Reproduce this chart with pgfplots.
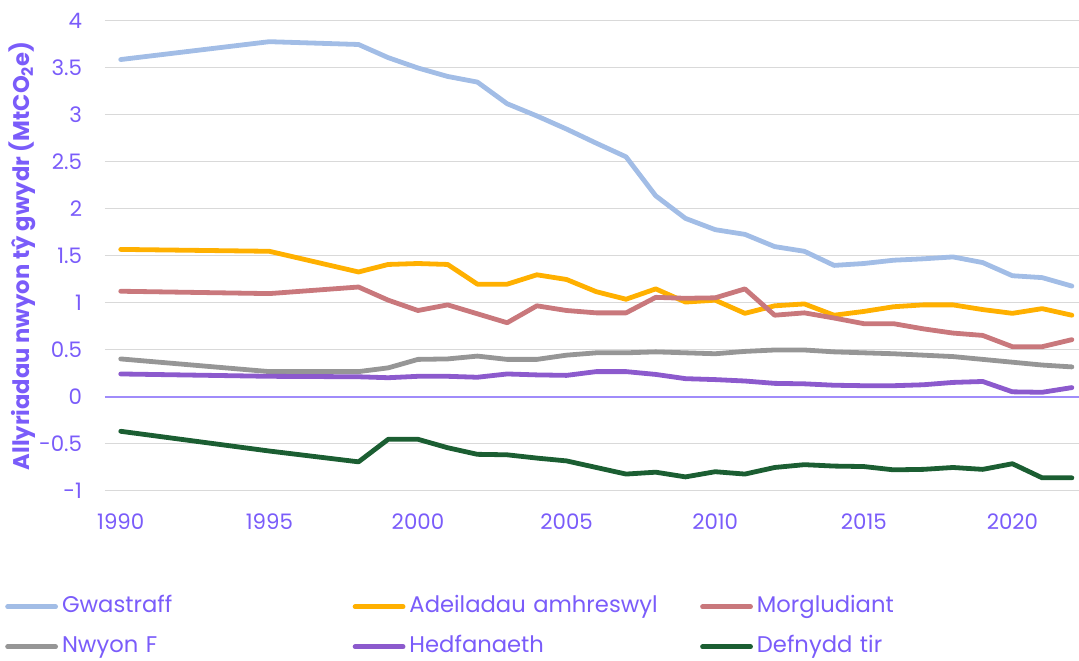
\documentclass[border=0pt]{standalone}
\usepackage{pgfplots}
\pgfplotsset{compat=1.18}
\usepackage{pgfplotstable}
\usepackage{fontspec}
\setmainfont{Poppins}
\definecolor{txtpurple}{RGB}{122,92,250}
\definecolor{zeropurple}{RGB}{160,140,250}
\definecolor{gridgray}{RGB}{217,217,217}
\definecolor{cWaste}{RGB}{162,189,230}
\definecolor{cBuild}{RGB}{255,176,0}
\definecolor{cTrans}{RGB}{201,120,124}
\definecolor{cFgas}{RGB}{150,150,150}
\definecolor{cAvia}{RGB}{140,90,205}
\definecolor{cLand}{RGB}{27,94,50}

% year, Gwastraff, Adeiladau, Morgludiant, Nwyon F, Hedfanaeth, Defnydd tir
\pgfplotstableread{
year waste build trans fgas avia land
1990 3.59 1.57 1.125 0.405 0.245 -0.365
1995 3.78 1.55 1.10 0.27 0.22 -0.575
1998 3.75 1.33 1.17 0.27 0.215 -0.69
1999 3.61 1.41 1.03 0.31 0.205 -0.45
2000 3.50 1.42 0.92 0.40 0.22 -0.45
2001 3.41 1.41 0.98 0.405 0.22 -0.54
2002 3.35 1.20 0.885 0.435 0.21 -0.61
2003 3.12 1.20 0.79 0.40 0.245 -0.615
2004 2.99 1.30 0.97 0.40 0.235 -0.65
2005 2.85 1.25 0.92 0.445 0.23 -0.68
2006 2.70 1.12 0.895 0.47 0.27 -0.75
2007 2.555 1.04 0.895 0.47 0.27 -0.82
2008 2.14 1.15 1.06 0.48 0.24 -0.80
2009 1.90 1.01 1.05 0.47 0.195 -0.85
2010 1.78 1.03 1.055 0.46 0.185 -0.795
2011 1.73 0.89 1.15 0.485 0.17 -0.82
2012 1.60 0.97 0.87 0.50 0.145 -0.75
2013 1.55 0.99 0.895 0.50 0.14 -0.72
2014 1.40 0.87 0.84 0.48 0.125 -0.735
2015 1.42 0.91 0.78 0.47 0.12 -0.74
2016 1.455 0.96 0.78 0.46 0.12 -0.775
2017 1.47 0.98 0.725 0.445 0.13 -0.77
2018 1.49 0.98 0.68 0.43 0.155 -0.75
2019 1.43 0.93 0.655 0.40 0.165 -0.77
2020 1.29 0.89 0.535 0.37 0.055 -0.71
2021 1.27 0.94 0.535 0.34 0.05 -0.86
2022 1.18 0.87 0.61 0.32 0.10 -0.86
}\emissions

\begin{document}
\begin{tikzpicture}
\begin{axis}[
  scale only axis,
  width=730.5pt, height=352.5pt,
  xmin=1989.47, xmax=2022.24,
  ymin=-1, ymax=4,
  axis line style={draw=none},
  major tick length=0pt,
  ymajorgrids,
  grid style={gridgray, line width=0.75pt},
  xtick={1990,1995,2000,2005,2010,2015,2020},
  xticklabels={1990,1995,2000,2005,2010,2015,2020},
  ytick={-1,-0.5,0,0.5,1,1.5,2,2.5,3,3.5,4},
  yticklabels={-1,-0.5,0,0.5,1,1.5,2,2.5,3,3.5,4},
  tick label style={font=\fontsize{16}{18}\selectfont, text=txtpurple},
  yticklabel style={anchor=east, inner sep=0pt, xshift=-17pt},
  xticklabel style={anchor=north, inner sep=0pt, yshift=-17pt},
  ylabel={\textbf{Allyriadau nwyon tŷ gwydr (MtCO\textsubscript{2}e)}},
  ylabel style={font=\fontsize{17}{19}\selectfont, text=txtpurple,
    at={(axis description cs:-0.0852,0.5)}, anchor=center, rotate=0},
  legend columns=3,
  legend cell align=left,
  legend image code/.code={\draw[#1] (0pt,0pt) -- (36pt,0pt);},
  legend style={
    at={(axis description cs:-0.1027,-0.226)}, anchor=north west,
    draw=none, fill=none, inner sep=0pt, row sep=16pt,
    font=\fontsize{17}{19}\selectfont, text=txtpurple,
    nodes={inner sep=0pt, text height=11pt, text depth=3pt},
    /tikz/every odd column/.append style={column sep=3pt},
    /tikz/every even column/.append style={column sep=10pt, text width=208pt, align=left},
  },
  every axis plot/.append style={line width=3.6pt, line join=round, line cap=round},
]
\draw[zeropurple, line width=0.9pt] (axis cs:1989.47,0) -- (axis cs:2022.24,0);
\coordinate (ll) at (rel axis cs:0,0);
\coordinate (ur) at (rel axis cs:1,1);
\addplot[cWaste] table[x=year, y=waste] {\emissions};
\addplot[cBuild] table[x=year, y=build] {\emissions};
\addplot[cTrans] table[x=year, y=trans] {\emissions};
\addplot[cFgas] table[x=year, y=fgas] {\emissions};
\addplot[cAvia] table[x=year, y=avia] {\emissions};
\addplot[cLand] table[x=year, y=land] {\emissions};
\legend{Gwastraff, Adeiladau amhreswyl, Morgludiant, Nwyon F, Hedfanaeth, Defnydd tir}
\end{axis}
\pgfresetboundingbox
\path ([shift={(-78.75pt,-127.5pt)}]ll) rectangle ([shift={(0pt,15.75pt)}]ur);
\end{tikzpicture}
\end{document}
